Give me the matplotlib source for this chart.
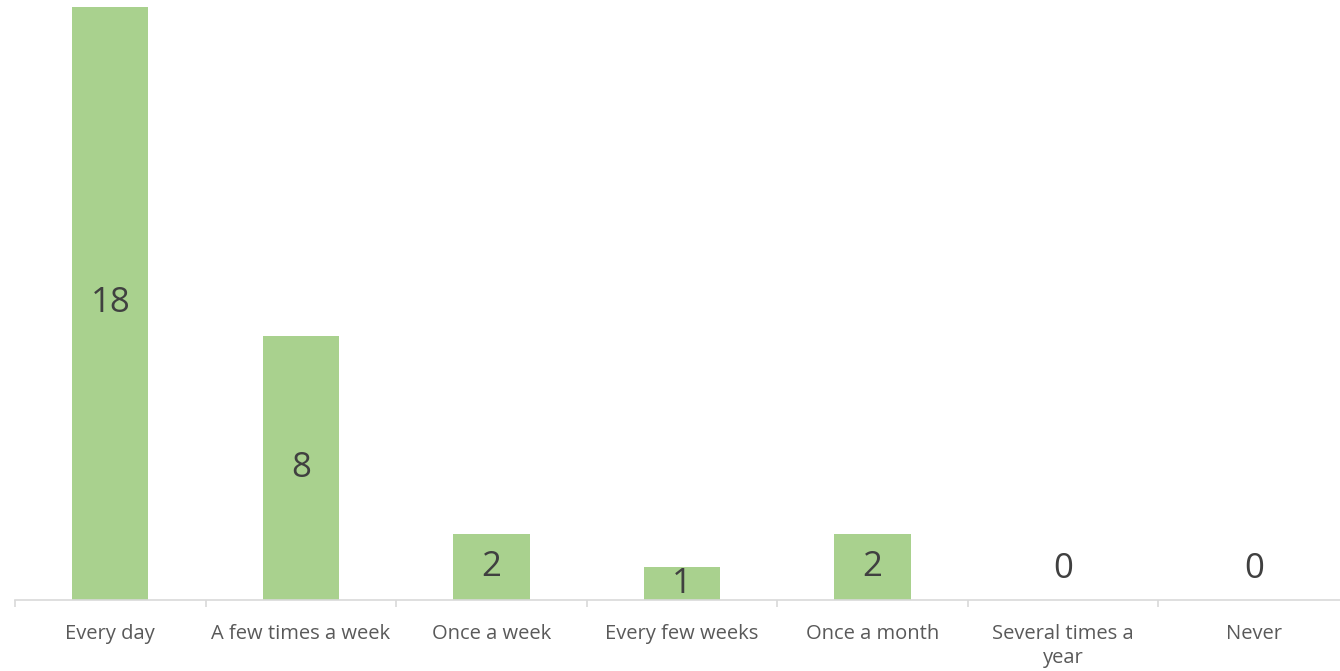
import matplotlib.pyplot as plt

categories = ["Every day", "A few times a week", "Once a week", "Every few weeks",
              "Once a month", "Several times a\nyear", "Never"]
counts = [18, 8, 2, 1, 2, 0, 0]

W, H = 1340, 671
fig = plt.figure(figsize=(W / 100, H / 100), dpi=100)
# axes spans pixel x 15..1349, y 7..600
ax = fig.add_axes([15 / W, (H - 600) / H, (1349 - 15) / W, (600 - 7) / H])

x = list(range(len(categories)))
bars = ax.bar(x, counts, width=0.4, color="#A9D18E", zorder=2)
ax.set_xlim(-0.5, len(categories) - 0.5)
ax.set_ylim(0, 18)

for xi, v in zip(x, counts):
    if v > 0:
        ax.text(xi, v / 2, str(v), ha="center", va="center", fontsize=25,
                color="#404040", family="Open Sans")
    else:
        ax.annotate(str(v), (xi, 0), xytext=(0, 22), textcoords="offset points",
                    ha="center", va="center", fontsize=25, color="#404040",
                    family="Open Sans")

for s in ["top", "right", "left"]:
    ax.spines[s].set_visible(False)
ax.spines["bottom"].set_color("#D9D9D9")
ax.spines["bottom"].set_linewidth(1.2)
ax.set_yticks([])

ax.set_xticks(x)
ax.set_xticklabels(categories, fontsize=14.5, color="#595959", family="Open Sans",
                   linespacing=1.3)
ax.tick_params(axis="x", length=0, pad=17)
# minor ticks on category boundaries
ax.set_xticks([i - 0.5 for i in range(len(categories) + 1)], minor=True)
ax.tick_params(axis="x", which="minor", length=5, color="#D9D9D9", width=1.2)

fig.savefig("out.png", dpi=100)
